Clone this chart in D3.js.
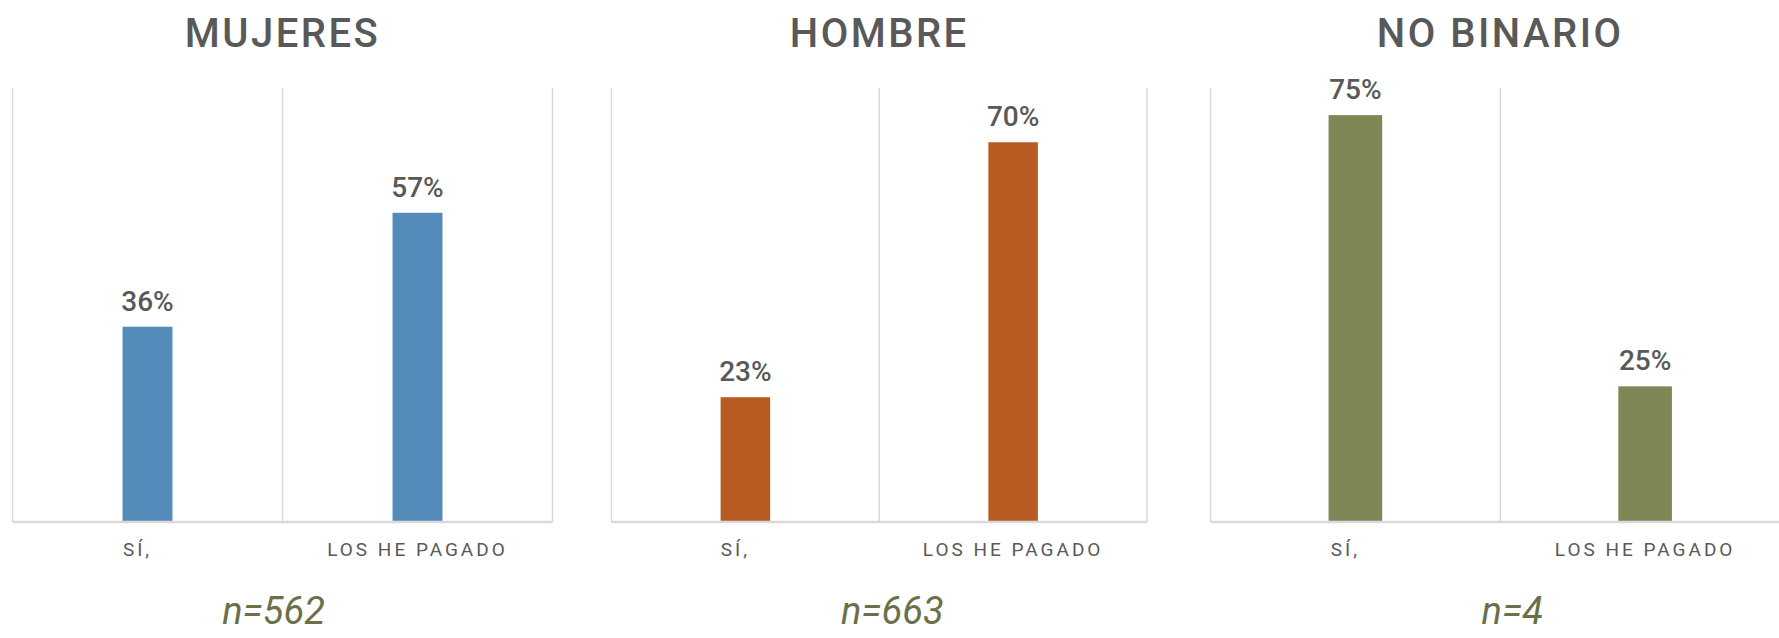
<!DOCTYPE html>
<html>
<head>
<meta charset="utf-8">
<script src="https://cdn.jsdelivr.net/npm/d3@7"></script>
<style>
  body { margin: 0; background: #fff; }
  text { font-family: Roboto, "Liberation Sans", sans-serif; }
</style>
</head>
<body>
<svg id="chart" width="1779" height="638"></svg>
<script>
// data
var panelTitles = ["MUJERES", "HOMBRE", "NO BINARIO"];
var categories = ["SÍ,", "LOS HE PAGADO"];
var mujeres = [36, 57];
var hombre = [23, 70];
var noBinario = [75, 25];
var sampleSizes = [562, 663, 4];
var barColors = ["#548bba", "#b85b22", "#7f8757"];

var seriesByPanel = [mujeres, hombre, noBinario];

// layout
var w = 1779, h = 638;
var plotTop = 88, baseline = 522;
var panelRanges = [[12.5, 552.5], [611.5, 1147], [1210.5, 1790]];
var nOffsets = [-9, 13, 12];

var chart = d3.select("#chart");

var y = d3.scaleLinear().domain([0, 80]).range([baseline, plotTop]);

panelTitles.forEach(function (title, p) {
    var range = panelRanges[p];
    var values = seriesByPanel[p];
    var data = categories.map(function (c, i) { return { cat: c, value: values[i] }; });

    var x = d3.scaleBand().domain(categories).range(range).padding(0);
    var bw = x.bandwidth() * 0.185;
    var cx = (range[0] + range[1]) / 2;

    var g = chart.append("g");

    // vertical grid lines at band edges
    var edges = categories.map(function (c) { return x(c); }).concat([range[1]]);
    g.selectAll("line.grid")
        .data(edges)
        .enter()
        .append("line")
        .attr("class", "grid")
        .attr("x1", function (d) { return d; })
        .attr("x2", function (d) { return d; })
        .attr("y1", plotTop)
        .attr("y2", baseline)
        .style("stroke", "#d9d9d9")
        .style("stroke-width", 1.5);

    g.selectAll("rect")
        .data(data)
        .enter()
        .append("rect")
        .attr("x", function (d) { return x(d.cat) + x.bandwidth() / 2 - bw / 2; })
        .attr("y", function (d) { return y(d.value); })
        .attr("width", bw)
        .attr("height", function (d) { return baseline - y(d.value); })
        .style("fill", barColors[p]);

    // baseline
    g.append("line")
        .attr("x1", range[0])
        .attr("x2", range[1])
        .attr("y1", baseline)
        .attr("y2", baseline)
        .style("stroke", "#d9d9d9")
        .style("stroke-width", 2.5);

    // value labels
    g.selectAll("text.val")
        .data(data)
        .enter()
        .append("text")
        .attr("class", "val")
        .attr("x", function (d) { return x(d.cat) + x.bandwidth() / 2; })
        .attr("y", function (d) { return y(d.value) - 16; })
        .attr("text-anchor", "middle")
        .style("font-size", "28px")
        .style("font-weight", 500)
        .style("fill", "#595959")
        .text(function (d) { return d.value + "%"; });

    // category labels
    g.selectAll("text.cat")
        .data(categories)
        .enter()
        .append("text")
        .attr("class", "cat")
        .attr("x", function (d) { return x(d) + x.bandwidth() / 2; })
        .attr("dx", function (d, i) { return i === 0 ? -10 : 0; })
        .attr("y", 556)
        .attr("text-anchor", "middle")
        .style("font-size", "19px")
        .style("letter-spacing", "3px")
        .style("fill", "#595959")
        .text(function (d) { return d; });

    // panel title
    chart.append("text")
        .attr("x", cx)
        .attr("y", 47)
        .attr("text-anchor", "middle")
        .style("font-size", "40px")
        .style("font-weight", 500)
        .style("letter-spacing", "2.5px")
        .style("fill", "#595959")
        .text(title);

    // sample size
    chart.append("text")
        .attr("x", cx + nOffsets[p])
        .attr("y", 624)
        .attr("text-anchor", "middle")
        .style("font-size", "38px")
        .style("font-style", "italic")
        .style("fill", "#6b7049")
        .text("n=" + sampleSizes[p]);
});
</script>
</body>
</html>
